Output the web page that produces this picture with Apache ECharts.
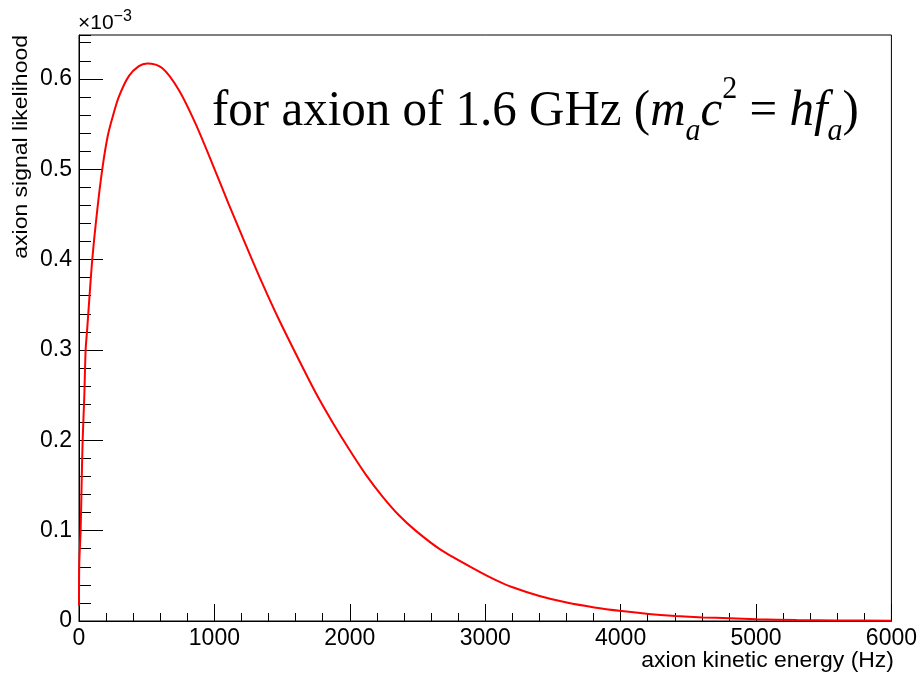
<!DOCTYPE html>
<html>
<head>
<meta charset="utf-8">
<script src="https://cdn.jsdelivr.net/npm/echarts@6/dist/echarts.min.js"></script>
<style>
html,body{margin:0;padding:0;background:#ffffff;}
#chart{width:920px;height:675px;}
</style>
</head>
<body>
<div id="chart"></div>
<script>
// axion kinetic energy (Hz)
const energyHz = [0, 2, 12, 20, 27, 39, 49, 60, 98, 135, 172, 210, 245, 294, 368, 442, 503, 614, 736, 859, 982, 1104, 1227, 1350, 1472, 1627, 1750, 1872, 1995, 2118, 2240, 2363, 2486, 2670, 2952, 3075, 3197, 3401, 3602, 3806, 4007, 4208, 4407, 4608, 4804, 5005, 5300, 5600, 6000];
// axion signal likelihood, in units of 1e-3
const likelihoodE3 = [0.017, 0.064, 0.100, 0.156, 0.200, 0.248, 0.300, 0.322, 0.400, 0.455, 0.500, 0.535, 0.556, 0.580, 0.603, 0.614, 0.617, 0.612, 0.588, 0.551, 0.507, 0.462, 0.418, 0.375, 0.335, 0.288, 0.252, 0.220, 0.190, 0.162, 0.138, 0.117, 0.100, 0.079, 0.055, 0.0456, 0.0376, 0.0277, 0.0204, 0.015, 0.011, 0.0078, 0.0056, 0.004, 0.003, 0.002, 0.001, 0.0006, 0.0003];

const xTickValues = [0, 1000, 2000, 3000, 4000, 5000, 6000];
const yTickLabels = ['0', '0.1', '0.2', '0.3', '0.4', '0.5', '0.6'];
const xTitle = 'axion kinetic energy (Hz)';
const yTitle = 'axion signal likelihood';

const points = energyHz.map((e, i) => [e, likelihoodE3[i]]);

const chart = echarts.init(document.getElementById('chart'), null, {renderer: 'canvas'});
const sans = 'Liberation Sans, Arial, Helvetica, sans-serif';
const serif = 'Liberation Serif, Times New Roman, serif';

chart.setOption({
  animation: false,
  backgroundColor: '#ffffff',
  grid: {left: 79, right: 26, top: 35, bottom: 54, show: true, borderColor: '#000', borderWidth: 1, backgroundColor: 'transparent'},
  xAxis: {
    type: 'value', min: xTickValues[0], max: xTickValues[xTickValues.length - 1], interval: 1000,
    axisLine: {show: true, onZero: false, lineStyle: {color: '#000', width: 1}},
    axisTick: {show: true, inside: true, length: 17, lineStyle: {color: '#000', width: 1}},
    minorTick: {show: true, splitNumber: 5, length: 8, lineStyle: {color: '#000', width: 1}},
    splitLine: {show: false},
    axisLabel: {color: '#000', fontFamily: sans, fontSize: 23, margin: 6,
      formatter: v => String(v)}
  },
  yAxis: [{
    type: 'value', min: 0, max: 0.6485, interval: 0.1,
    axisLine: {show: true, onZero: false, lineStyle: {color: '#000', width: 1}},
    axisTick: {show: true, inside: true, length: 24, lineStyle: {color: '#000', width: 1}},
    splitLine: {show: false},
    axisLabel: {color: '#000', fontFamily: sans, fontSize: 23, margin: 7,
      showMaxLabel: false,
      formatter: v => { const k = Math.round(v * 10); return (Math.abs(v * 10 - k) < 1e-6 && k <= 6) ? yTickLabels[k] : ''; }}
  }, {
    type: 'value', min: 0, max: 0.6485, interval: 0.02, position: 'left', offset: 0,
    axisLine: {show: false},
    axisTick: {show: true, inside: true, length: 12, lineStyle: {color: '#000', width: 1}},
    axisLabel: {show: false},
    splitLine: {show: false}
  }],
  series: [{
    type: 'line', data: points, xAxisIndex: 0, yAxisIndex: 0,
    showSymbol: false, smooth: 0.3,
    lineStyle: {color: '#ff0000', width: 2},
    itemStyle: {color: '#ff0000'}
  }],
  graphic: [
    {
      type: 'text', x: 78, y: 23, z: 100,
      style: {
        text: '{a|\u00d710}{b|\u22123}',
        textVerticalAlign: 'middle',
        rich: {
          a: {fontFamily: sans, fontSize: 21, fill: '#000', lineHeight: 28},
          b: {fontFamily: sans, fontSize: 16, fill: '#000', lineHeight: 22, verticalAlign: 'top'}
        }
      }
    },
    {
      type: 'text', x: 21, y: 35, rotation: Math.PI / 2, scaleX: 1.15, z: 100,
      style: {text: yTitle, fontFamily: sans, fontSize: 20, fill: '#000', textAlign: 'right', textVerticalAlign: 'middle'}
    },
    {
      type: 'text', x: 894, y: 661, scaleX: 1.12, scaleY: 1.05, z: 100,
      style: {text: xTitle, fontFamily: sans, fontSize: 20.5, fill: '#000', textAlign: 'right', textVerticalAlign: 'middle'}
    },
    {
      type: 'text', x: 212, y: 111, scaleY: 1.05, z: 100,
      style: {
        text: '{n|for axion of 1.6 GHz (}{i|m}{s|a}{i|c}{p|2}{n| = }{i|hf}{s|a}{n|)}',
        textAlign: 'left', textVerticalAlign: 'middle',
        rich: {
          n: {fontFamily: serif, fontSize: 49, fill: '#000', lineHeight: 70},
          i: {fontFamily: serif, fontSize: 49, fontStyle: 'italic', fill: '#000', lineHeight: 70},
          s: {fontFamily: serif, fontSize: 30, fontStyle: 'italic', fill: '#000', lineHeight: 28, verticalAlign: 'bottom'},
          p: {fontFamily: serif, fontSize: 30, fill: '#000', lineHeight: 38, verticalAlign: 'top'}
        }
      }
    }
  ]
});
</script>
</body>
</html>
